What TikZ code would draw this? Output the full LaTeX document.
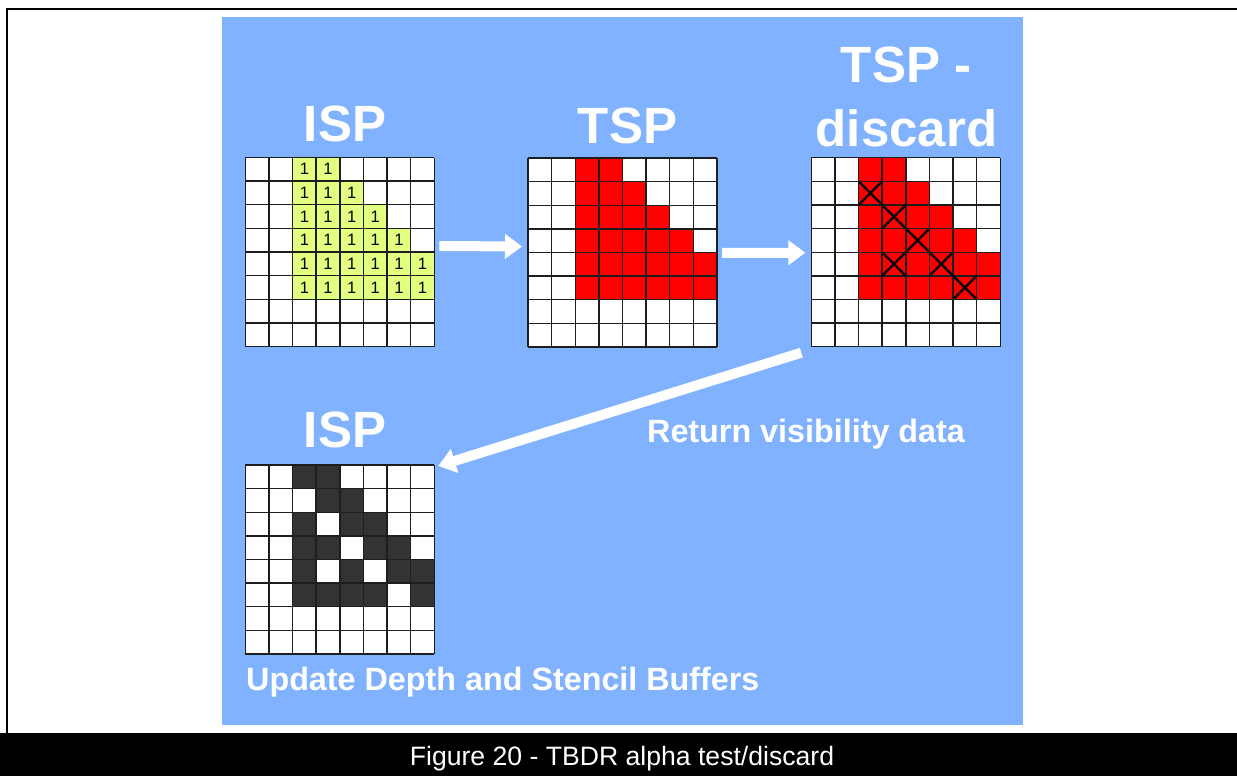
\documentclass[tikz,border=0pt]{standalone}
\usepackage{fontspec}
\setmainfont{Liberation Sans}
\usetikzlibrary{calc,arrows.meta}

\definecolor{panelblue}{RGB}{128,178,255}
\definecolor{limecell}{RGB}{226,255,128}
\definecolor{redcell}{RGB}{255,0,0}
\definecolor{darkcell}{RGB}{51,51,51}
\definecolor{gridink}{RGB}{30,30,30}

\newcommand\cs{23.625}
% fill one cell of a grid node: node, column, row, colour
\newcommand\paintcell[4]{\fill[#4] ($(#1.north west)+(#2*\cs,#3*\cs)$) rectangle ++(\cs,\cs);}
% cross out one cell
\newcommand\crosscell[3]{%
  \draw[crossline] ($(#1.north west)+(#2*\cs,#3*\cs)$) -- ++(\cs,\cs);
  \draw[crossline] ($(#1.north west)+(#2*\cs+\cs,#3*\cs)$) -- ++(-\cs,\cs);}
% 8x8 cell lines over a grid node
\newcommand\gridlines[1]{%
  \foreach \i in {0,...,8}{
    \draw[gridline] ($(#1.north west)+(\i*\cs,0)$) -- ++(0,189);
    \draw[gridline] ($(#1.north west)+(0,\i*\cs)$) -- ++(189,0);}}

\begin{document}
\begin{tikzpicture}[x=1pt,y=-1pt,
  gridbox/.style={draw=none,fill=white,minimum size=189pt,inner sep=0pt,outer sep=0pt},
  gridline/.style={draw=gridink,line width=1.4pt},
  crossline/.style={draw=black,line width=2.4pt},
  title/.style={text=white,font=\bfseries\fontsize{51}{56}\selectfont,anchor=base,inner sep=0pt},
  note/.style={text=white,font=\bfseries\fontsize{32.3}{36}\selectfont,anchor=base west,inner sep=0pt},
  bigarrow/.style={draw=white,line width=10pt,-{Triangle[length=17pt,width=24pt]}},
  digit/.style={font=\fontsize{16.5}{16.5}\selectfont,inner sep=0pt}]
\useasboundingbox (0,0) rectangle (1237,776);

% page frame, panel and caption bar
\draw[line width=2pt] (6.5,733) -- (6.5,9) -- (1237,9);
\fill[panelblue] (222,17) rectangle (1023,725);
\fill[black] (0,733) rectangle (1237,776);
\node[anchor=base,text=white,font=\fontsize{26.6}{30}\selectfont,inner sep=0pt] (caption) at (622,765) {Figure 20 - TBDR alpha test/discard};

% the four tiles
\node[gridbox] (ispA) at (339.8,252) {};
\node[gridbox] (tsp) at (622.5,252.5) {};
\node[gridbox] (disc) at (905.8,252.2) {};
\node[gridbox] (ispB) at (339.8,559.5) {};

% covered area of the triangle
\foreach \r in {0,...,5}{
  \pgfmathtruncatemacro\last{min(3+\r,7)}
  \foreach \c in {2,...,\last}{
    \paintcell{ispA}{\c}{\r}{limecell}
    \node[digit] at ($(ispA.north west)+(\c*\cs+0.5*\cs,\r*\cs+0.5*\cs)$) {1};
    \paintcell{tsp}{\c}{\r}{redcell}
    \paintcell{disc}{\c}{\r}{redcell}
  }}

% pixels that survive the discard
\foreach \c/\r in {2/0,3/0, 3/1,4/1, 2/2,4/2,5/2, 2/3,3/3,5/3,6/3,
                   2/4,4/4,6/4,7/4, 2/5,3/5,4/5,5/5,7/5}{
  \paintcell{ispB}{\c}{\r}{darkcell}}

\gridlines{ispA}
\gridlines{tsp}
\gridlines{disc}
\gridlines{ispB}

% discarded pixels
\foreach \c/\r in {2/1,3/2,4/3,3/4,5/4,6/5}{\crosscell{disc}{\c}{\r}}

% stage titles
\node[title] (tIspA) at (345,141) {ISP};
\node[title] (tTsp) at (627.5,143) {TSP};
\node[title] (tDiscA) at (906,82) {TSP -};
\node[title] (tDiscB) at (906.5,146) {discard};
\node[title] (tIspB) at (345,447) {ISP};

\node[note] (ret) at (647,442) {Return visibility data};
\node[note] (upd) at (246,690) {Update Depth and Stencil Buffers};

% flow between stages
\draw[bigarrow] ([xshift=5pt,yshift=6pt]ispA.east) -- ([xshift=-6pt,yshift=6pt]tsp.west);
\draw[bigarrow] ([xshift=5pt,yshift=-0.5pt]tsp.east) -- ([xshift=-6pt,yshift=-0.5pt]disc.west);
\coordinate (retStart) at ([xshift=-10pt,yshift=-6pt]disc.south west);
\coordinate (retEnd) at ([xshift=4pt,yshift=-1pt]ispB.north east);
\draw[bigarrow] (retStart) -- (retEnd);
\end{tikzpicture}
\end{document}
